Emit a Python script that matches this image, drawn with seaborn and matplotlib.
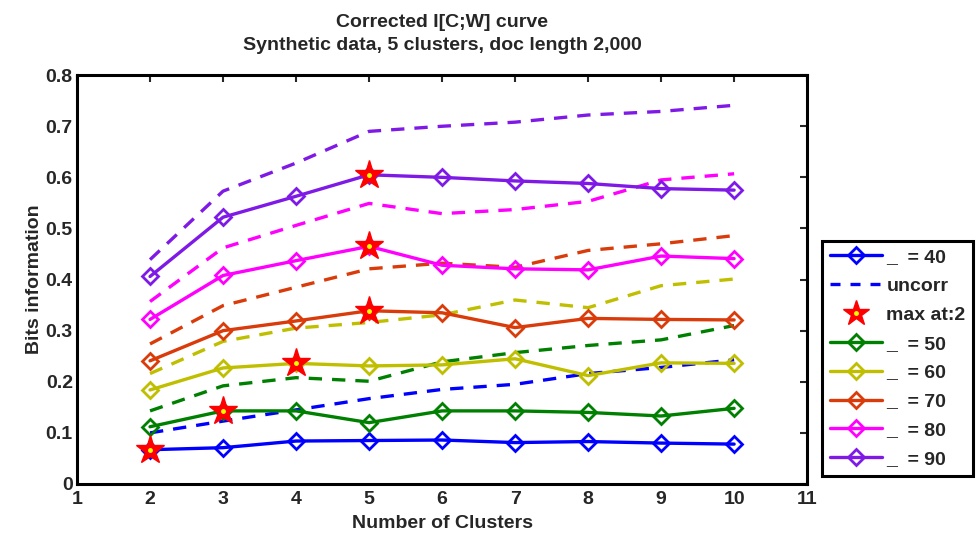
import matplotlib
matplotlib.use("Agg")
import matplotlib.pyplot as plt
from matplotlib.lines import Line2D
from matplotlib.legend_handler import HandlerTuple
import seaborn as sns
import pandas as pd

clusters = [2, 3, 4, 5, 6, 7, 8, 9, 10]
levels = ["40", "50", "60", "70", "80", "90"]
corrected = {
    "40": [0.067, 0.071, 0.084, 0.085, 0.086, 0.081, 0.083, 0.080, 0.078],
    "50": [0.112, 0.143, 0.143, 0.120, 0.143, 0.143, 0.140, 0.133, 0.148],
    "60": [0.184, 0.227, 0.236, 0.231, 0.233, 0.245, 0.212, 0.237, 0.236],
    "70": [0.241, 0.300, 0.319, 0.339, 0.335, 0.306, 0.324, 0.322, 0.321],
    "80": [0.322, 0.408, 0.437, 0.465, 0.428, 0.421, 0.419, 0.446, 0.441],
    "90": [0.406, 0.522, 0.563, 0.605, 0.600, 0.593, 0.588, 0.578, 0.575],
}
uncorr = {
    "40": [0.100, 0.123, 0.145, 0.167, 0.185, 0.195, 0.216, 0.228, 0.243],
    "50": [0.143, 0.192, 0.208, 0.201, 0.239, 0.257, 0.271, 0.282, 0.310],
    "60": [0.216, 0.279, 0.305, 0.316, 0.331, 0.360, 0.345, 0.388, 0.401],
    "70": [0.274, 0.349, 0.385, 0.421, 0.432, 0.424, 0.457, 0.470, 0.486],
    "80": [0.357, 0.462, 0.506, 0.549, 0.529, 0.537, 0.553, 0.595, 0.607],
    "90": [0.439, 0.573, 0.628, 0.690, 0.700, 0.708, 0.722, 0.729, 0.741],
}
max_at = {"40": 2, "50": 3, "60": 4, "70": 5, "80": 5, "90": 5}
colors = {
    "40": "#0000FF",
    "50": "#008000",
    "60": "#BFBF00",
    "70": "#D93B0A",
    "80": "#FF00FF",
    "90": "#7F1AE6",
}
xticks = list(range(1, 12))
yticks = [0, 0.1, 0.2, 0.3, 0.4, 0.5, 0.6, 0.7, 0.8]

sns.set_theme(style="white")
plt.rcParams["font.family"] = ["Liberation Sans", "DejaVu Sans"]
plt.rcParams["font.weight"] = "bold"

fig = plt.figure(figsize=(9.8, 5.33), dpi=100)
ax = fig.add_axes([0.0786, 0.092, 0.745, 0.767])

handles = {}
for lv in levels:
    c = colors[lv]
    df_c = pd.DataFrame({"x": clusters, "y": corrected[lv]})
    df_u = pd.DataFrame({"x": clusters, "y": uncorr[lv]})
    sns.lineplot(data=df_c, x="x", y="y", ax=ax, color=c, lw=2.4, marker="D",
                 markersize=8, markerfacecolor="none", markeredgecolor=c,
                 markeredgewidth=2.0, zorder=3)
    sns.lineplot(data=df_u, x="x", y="y", ax=ax, color=c, lw=2.4,
                 linestyle=(0, (4, 3)), zorder=2)
    handles[lv] = Line2D([], [], color=c, lw=2.4, marker="D", markersize=8,
                         markerfacecolor="none", markeredgecolor=c, markeredgewidth=2.0)

for lv in levels:
    xm = max_at[lv]
    ym = corrected[lv][clusters.index(xm)]
    ax.plot([xm], [ym], marker="*", markersize=21, color="red",
            markeredgecolor="red", linestyle="none", zorder=5)
    ax.plot([xm], [ym], marker="o", markersize=2.5, color="yellow",
            markeredgecolor="yellow", linestyle="none", zorder=6)

ax.set_xlim(1, 11)
ax.set_ylim(0, 0.8)
ax.set_xticks(xticks)
ax.set_xticklabels([str(t) for t in xticks])
ax.set_yticks(yticks)
ax.set_yticklabels(["0" if t == 0 else f"{t:.1f}" for t in yticks])
ax.tick_params(direction="in", top=True, right=True, length=5, width=1.5,
               labelsize=14, pad=3)
ax.tick_params(axis="x", pad=5)
for lab in ax.get_xticklabels() + ax.get_yticklabels():
    lab.set_fontweight("bold")
for s in ax.spines.values():
    s.set_linewidth(2.2)
    s.set_color("black")

ax.set_xlabel("Number of Clusters", fontsize=14, fontweight="bold", labelpad=5)
ax.set_ylabel("Bits information", fontsize=14, fontweight="bold", labelpad=2)
ax.set_title("Corrected I[C;W] curve\nSynthetic data, 5 clusters, doc length 2,000",
             fontsize=14, fontweight="bold", pad=18, linespacing=1.45)

uncorr_h = Line2D([], [], color=colors["40"], lw=2.4, linestyle=(0, (3, 3)))
star_h = (Line2D([], [], marker="*", markersize=19, color="red", linestyle="none"),
          Line2D([], [], marker="o", markersize=2.5, color="yellow", linestyle="none"))
leg_handles = [handles["40"], uncorr_h, star_h, handles["50"], handles["60"],
               handles["70"], handles["80"], handles["90"]]
leg_labels = ["_  = 40", "uncorr", "max at:2", "_  = 50", "_  = 60",
              "_  = 70", "_  = 80", "_  = 90"]
leg = fig.legend(leg_handles, leg_labels, loc="lower left",
                 bbox_to_anchor=(0.839, 0.107), bbox_transform=fig.transFigure,
                 handler_map={tuple: HandlerTuple(ndivide=1, pad=0)},
                 fontsize=14, frameon=True, fancybox=False, framealpha=1,
                 edgecolor="black", handlelength=2.7, handletextpad=0.2,
                 labelspacing=0.58, borderpad=0.4, borderaxespad=0)
leg.get_frame().set_linewidth(2.2)
for t in leg.get_texts():
    t.set_fontweight("bold")

fig.savefig("out.png", dpi=100)
